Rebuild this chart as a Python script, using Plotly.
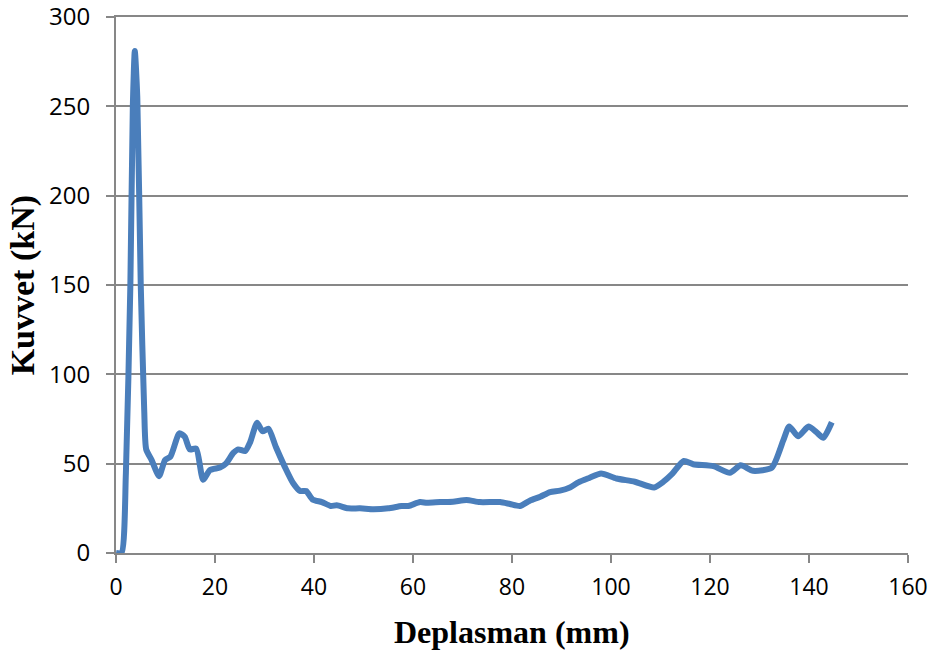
import plotly.graph_objects as go

# Force-displacement record
deplasman_mm = [0, 1.1, 2.0, 2.9, 3.4, 3.8, 4.3, 5.0, 5.7, 6.1, 7.2, 8.7, 9.9, 11.0,
                12.8, 13.9, 14.9, 16.2, 17.6, 19.0, 21.0, 22.2, 23.7, 24.7, 26.1,
                27.1, 28.5, 29.6, 30.8, 32.3, 34.1, 35.8, 37.2, 38.4, 39.7, 41.6,
                43.4, 44.6, 46.9, 49.3, 52.0, 55.0, 57.7, 59.1, 61.4, 62.8, 65.5,
                68.1, 70.8, 73.5, 77.6, 79.6, 81.6, 83.6, 85.7, 87.7, 89.7, 91.7,
                93.4, 95.6, 98.0, 101.1, 104.8, 108.7, 110.6, 112.3, 114.7, 116.6,
                120.7, 124.0, 126.2, 128.7, 132.5, 134.8, 136.0, 137.8, 139.9,
                141.5, 142.9, 144.6]
kuvvet_kN = [0, 0, 45, 150, 250, 281, 255, 150, 80, 58, 52, 43, 52, 54,
             67, 65, 58, 58.4, 41, 46.4, 47.8, 50, 56, 58, 57.1,
             62, 72.9, 68.2, 69.5, 59.3, 48.2, 39, 34.7, 34.7, 30, 28.5,
             26.3, 26.7, 25, 25, 24.5, 25, 26.3, 26.3, 28.5, 28.1, 28.5,
             28.7, 29.7, 28.5, 28.5, 27.4, 26.3, 29.3, 31.5, 34.1, 34.9, 36.7,
             39.5, 42, 44.5, 41.7, 39.9, 36.7, 39.9, 44.1, 51.5, 49.7,
             48.6, 44.9, 49.1, 46, 47.8, 63, 70.8, 65.3, 70.8,
             67.6, 64.5, 73.2]

x_ticks = [0, 20, 40, 60, 80, 100, 120, 140, 160]
y_ticks = [0, 50, 100, 150, 200, 250, 300]

x_title = "Deplasman (mm)"
y_title = "Kuvvet (kN)"

grid_gray = "#878787"
x_tick_font = dict(family="Open Sans, DejaVu Sans", size=23, color="black")
y_tick_font = dict(family="Open Sans, DejaVu Sans", size=24, color="black")
title_family = "Liberation Serif, Times New Roman"

fig = go.Figure()
fig.add_trace(go.Scatter(
    x=deplasman_mm, y=kuvvet_kN, mode="lines",
    line=dict(color="#4A7EBB", width=6, shape="spline", smoothing=0.6),
    showlegend=False, hoverinfo="skip",
))

fig.update_layout(
    width=936, height=654,
    margin=dict(l=116, r=28, t=17, b=101),
    paper_bgcolor="white", plot_bgcolor="white",
    xaxis=dict(
        range=[0, 160], tickvals=x_ticks, ticks="outside", ticklen=8,
        tickcolor=grid_gray, tickwidth=2, showgrid=False,
        showline=True, mirror=True, linecolor=grid_gray, linewidth=2,
        zeroline=False, automargin=False, ticklabelstandoff=4,
        ticklabeloverflow="allow", tickfont=x_tick_font,
    ),
    yaxis=dict(
        range=[0, 300], tickvals=y_ticks, ticks="outside", ticklen=8,
        tickcolor=grid_gray, tickwidth=2, showgrid=True, gridcolor=grid_gray,
        gridwidth=2, showline=True, linecolor=grid_gray, linewidth=2,
        zeroline=False, automargin=False, ticklabelstandoff=11,
        ticklabeloverflow="allow", tickfont=y_tick_font,
    ),
    annotations=[
        dict(text="<b>%s</b>" % x_title, xref="paper", yref="paper",
             x=0.5, y=-0.1466, xanchor="center", yanchor="middle",
             showarrow=False,
             font=dict(family=title_family, size=32, color="black")),
        dict(text="<b>%s</b>" % y_title, xref="paper", yref="paper",
             x=-0.117, y=0.5, xanchor="center", yanchor="middle",
             textangle=-90, showarrow=False,
             font=dict(family=title_family, size=34, color="black")),
    ],
)

fig.write_html("out.html")
